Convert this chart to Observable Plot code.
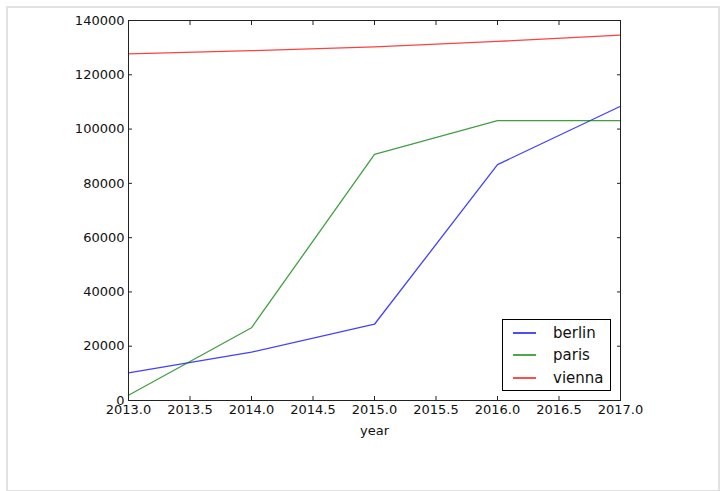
<!DOCTYPE html>
<html>
<head>
<meta charset="utf-8">
<script src="https://cdn.jsdelivr.net/npm/d3@7"></script>
<script src="https://cdn.jsdelivr.net/npm/@observablehq/plot@0.6"></script>
<style>
  html, body { margin: 0; padding: 0; background: #fff; }
  #wrap { position: relative; width: 722px; height: 491px; overflow: hidden; }
  #border { position: absolute; left: 6px; top: 6px; width: 710px; height: 482px; border: 2px solid #e2e2e2; box-sizing: content-box; pointer-events: none; }
  #legend { position: absolute; left: 502px; top: 319px; width: 109px; height: 72px; border: 1px solid #000; background: #fff;
            font-family: "DejaVu Sans", sans-serif; font-size: 15px; color: #111; box-sizing: border-box; }
  .row { position: absolute; left: 0; height: 20px; }
  .sw { position: absolute; left: 10px; top: 9px; width: 23px; height: 2px; }
  .lbl { position: absolute; left: 50px; top: 0; line-height: 20px; white-space: nowrap; }
</style>
</head>
<body>
<div id="wrap">
  <div id="chart"></div>
  <div id="border"></div>
  <div id="legend"></div>
</div>
<script>
const years = [2013, 2014, 2015, 2016, 2017];
const berlin = [10200, 17800, 28100, 86900, 108400];
const paris = [1950, 26800, 90700, 103100, 103100];
const vienna = [127700, 128900, 130300, 132300, 134600];
const seriesNames = ["berlin", "paris", "vienna"];
const seriesColors = ["#0000ff", "#008000", "#ff0000"];
const xTicks = [2013, 2013.5, 2014, 2014.5, 2015, 2015.5, 2016, 2016.5, 2017];
const yTicks = [0, 20000, 40000, 60000, 80000, 100000, 120000, 140000];

const seriesValues = [berlin, paris, vienna];
const data = [];
seriesNames.forEach((name, i) => {
  years.forEach((yr, j) => data.push({year: yr, value: seriesValues[i][j], city: name}));
});

const empty = () => "";
const chart = Plot.plot({
  width: 722,
  height: 491,
  marginLeft: 128,
  marginRight: 102,
  marginTop: 20,
  marginBottom: 91,
  style: {fontFamily: "DejaVu Sans, sans-serif", fontSize: "13px", color: "#111", background: "transparent"},
  x: {domain: [2013, 2017]},
  y: {domain: [0, 140000]},
  color: {domain: seriesNames, range: seriesColors},
  marks: [
    Plot.line(data, {x: "year", y: "value", z: "city", stroke: "city", strokeOpacity: 0.75, strokeWidth: 1.3}),
    Plot.axisX({ticks: xTicks, tickSize: 0, tickPadding: 4, tickFormat: d3.format(".1f"), label: "year", labelAnchor: "center", labelArrow: "none", labelOffset: 34, fill: "#111"}),
    Plot.axisX({ticks: xTicks, tickSize: -4, tickFormat: empty, label: null, stroke: "#222"}),
    Plot.axisX({anchor: "top", ticks: xTicks, tickSize: -4, tickFormat: empty, label: null, stroke: "#222"}),
    Plot.axisY({ticks: yTicks, tickSize: 0, tickPadding: 4, tickFormat: d => String(d), label: null, fill: "#111"}),
    Plot.axisY({ticks: yTicks, tickSize: -4, tickFormat: empty, label: null, stroke: "#222"}),
    Plot.axisY({anchor: "right", ticks: yTicks, tickSize: -4, tickFormat: empty, label: null, stroke: "#222"}),
    Plot.frame({stroke: "#222", strokeWidth: 1})
  ]
});
document.getElementById("chart").appendChild(chart);

const legend = document.getElementById("legend");
const rowTops = [3, 25, 48];
seriesNames.forEach((name, i) => {
  const row = document.createElement("div");
  row.className = "row";
  row.style.top = rowTops[i] + "px";
  const sw = document.createElement("div");
  sw.className = "sw";
  sw.style.background = seriesColors[i];
  sw.style.opacity = 0.7;
  const t = document.createElement("span");
  t.className = "lbl";
  t.textContent = name;
  row.appendChild(sw);
  row.appendChild(t);
  legend.appendChild(row);
});
</script>
</body>
</html>
